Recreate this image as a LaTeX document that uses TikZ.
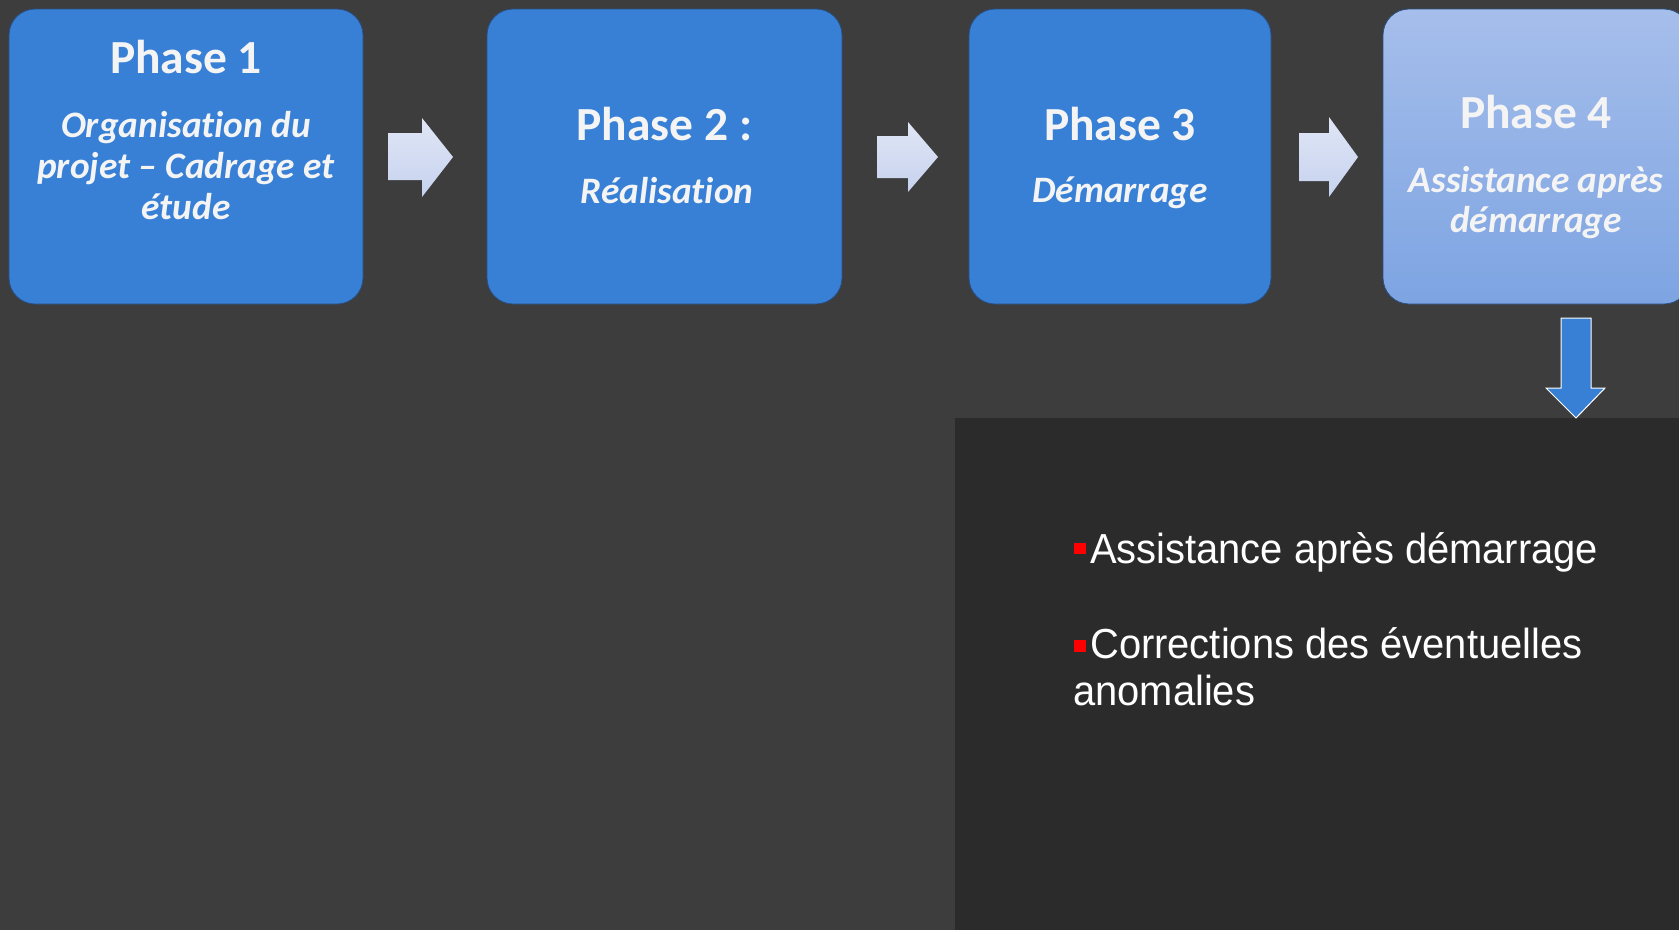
\documentclass[tikz,border=0pt]{standalone}
\usepackage{fontspec}
\setmainfont{Carlito}[Ligatures=NoCommon]
\newfontfamily\arialn[FakeStretch=0.95]{Liberation Sans}
\definecolor{bg}{HTML}{3D3D3D}
\definecolor{panel}{HTML}{2B2B2B}
\definecolor{boxblue}{HTML}{3780D6}
\definecolor{boxedge}{HTML}{2A4E80}
\definecolor{lighttop}{HTML}{A6BEEB}
\definecolor{lightbot}{HTML}{7DA4E2}
\definecolor{arrtop}{HTML}{E0E6F6}
\definecolor{arrbot}{HTML}{C6D2EE}
\definecolor{txt}{HTML}{F4F4F4}
\definecolor{bulletred}{HTML}{FF0000}
\tikzset{
  phasebox/.style={draw=boxedge, line width=0.8pt, rounded corners=26pt, inner sep=0pt},
  bluebox/.style={phasebox, fill=boxblue},
  title/.style={text=txt, font=\fontsize{47.5}{57}\selectfont\bfseries, anchor=base, inner sep=0pt},
  subtitle/.style={text=txt, font=\fontsize{37.3}{45}\selectfont\bfseries\itshape, anchor=base, inner sep=0pt},
  blockarrow/.style={top color=arrtop, bottom color=arrbot, draw=none},
  bullettext/.style={text=white, font=\arialn\fontsize{42}{50}\selectfont, anchor=base west, inner sep=0pt},
  redsq/.style={fill=bulletred, draw=none}
}
\begin{document}
\begin{tikzpicture}[x=1pt,y=-1pt]
\useasboundingbox (0,0) rectangle (1679,930);
\fill[bg] (0,0) rectangle (1679,930);
\fill[panel] (955,418) rectangle (1679,930);

% boxes
\node[bluebox, minimum width=354pt, minimum height=295pt] (b1) at (186,156.5) {};
\node[bluebox, minimum width=355pt, minimum height=295pt] (b2) at (664.5,156.5) {};
\node[bluebox, minimum width=302pt, minimum height=295pt] (b3) at (1120,156.5) {};
\begin{scope}
\clip (0,0) rectangle (1679,930);
\shade[phasebox, top color=lighttop, bottom color=lightbot] (1383,9) rectangle (1690,304);
\end{scope}
\coordinate (b4) at (1536,156.5);

% texts
\node[title] (t1) at (186,73) {Phase 1};
\node[subtitle] (s1a) at (186,137) {Organisation du};
\node[subtitle] (s1b) at (186,178) {projet – Cadrage et};
\node[subtitle] (s1c) at (186,219) {étude};

\node[title] (t2) at (664.5,140) {Phase 2 :};
\node[subtitle] (s2) at (667,203) {Réalisation};

\node[title] (t3) at (1120,140) {Phase 3};
\node[subtitle] (s3) at (1120,202) {Démarrage};

\node[title] (t4) at (1536,128) {Phase 4};
\node[subtitle] (s4a) at (1536,192) {Assistance après};
\node[subtitle] (s4b) at (1536,232) {démarrage};

% block arrows
\shade[blockarrow] (388,133) -- (422,133) -- (422,118) -- (453,157) -- (422,197) -- (422,180) -- (388,180) -- cycle;
\shade[blockarrow] (877,136) -- (908,136) -- (908,122) -- (938,157) -- (908,192) -- (908,178) -- (877,178) -- cycle;
\shade[blockarrow] (1299,133) -- (1329,133) -- (1329,117) -- (1358,157) -- (1329,197) -- (1329,181) -- (1299,181) -- cycle;

% down arrow
\draw[fill=boxblue, draw=white, line width=1pt, line join=miter] (1561,318) -- (1591,318) -- (1591,388) -- (1605,388) -- (1576,418) -- (1546,388) -- (1561,388) -- cycle;

% bullets
\fill[redsq] (1074,543) rectangle (1086,554);
\node[bullettext] (l1) at (1090,563) {Assistance après démarrage};
\fill[redsq] (1074,640) rectangle (1086,652);
\node[bullettext] (l2) at (1090,658) {Corrections des éventuelles};
\node[bullettext] (l3) at (1073,705) {anomalies};
\end{tikzpicture}
\end{document}
